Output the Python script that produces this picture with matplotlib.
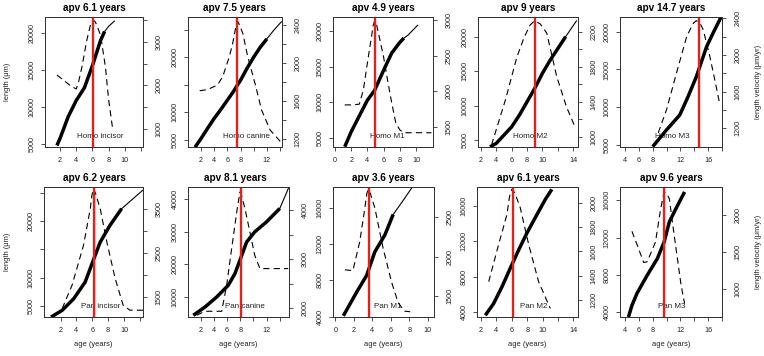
import matplotlib
matplotlib.use('Agg')
import matplotlib.pyplot as plt

plt.rcParams['font.family'] = ['Liberation Sans', 'DejaVu Sans']
plt.rcParams['lines.scale_dashes'] = False

# ---------------- data ----------------
apv_values = [6.1, 7.5, 4.9, 9, 14.7, 6.2, 8.1, 3.6, 6.1, 9.6]
tooth_labels = ["Homo incisor", "Homo canine", "Homo M1", "Homo M2", "Homo M3",
                "Pan incisor", "Pan canine", "Pan M1", "Pan M2", "Pan M3"]

# Homo incisor
hi_age = [1.6, 2.0, 3.0, 4.0, 5.0, 6.0, 7.0, 7.5]
hi_len = [4800, 5800, 8700, 10900, 12600, 15600, 19000, 20200]
hi_tail_age = [7.5, 8.0, 8.7]
hi_tail_len = [20200, 20900, 21600]
hi_vel_age = [1.6, 2.5, 3.3, 4.0, 4.3, 4.7, 5.3, 5.75, 5.95, 6.1, 6.3, 6.5, 7.0, 7.6, 8.0, 8.5]
hi_vel = [2240, 2110, 1990, 1920, 2100, 2430, 3040, 3390, 3470, 3490, 3470, 3400, 3150, 2430, 1670, 1000]

# Homo canine
hc_age = [1.1, 2, 3, 4, 5, 6, 7, 7.5, 8, 9, 10, 11, 12]
hc_len = [3700, 5250, 7100, 8900, 10500, 12200, 13900, 14900, 15800, 18000, 20000, 21800, 23300]
hc_tail_age = [12, 13, 14.2]
hc_tail_len = [23300, 24800, 26400]
hc_vel_age = [1.8, 3.0, 4.5, 5.3, 6.3, 6.8, 7.1, 7.35, 7.6, 7.85, 8.35, 9.1, 10.2, 11.2, 12.5, 14.1]
hc_vel = [1708, 1720, 1768, 1856, 2066, 2200, 2312, 2400, 2435, 2400, 2312, 2066, 1786, 1505, 1294, 1170]

# Homo M1
hm1_age = [1.2, 2, 3, 4, 4.9, 6, 7, 8, 8.5]
hm1_len = [3780, 5880, 8100, 10300, 11700, 14500, 16900, 18400, 19000]
hm1_tail_age = [8.5, 9, 10.2]
hm1_tail_len = [19000, 19400, 20800]
hm1_vel_age = [1.2, 2, 3, 3.5, 4, 4.5, 4.7, 4.9, 5.1, 5.3, 6, 6.5, 7, 7.5, 8, 8.5, 11.9]
hm1_vel = [1810, 1810, 1820, 2020, 2400, 2760, 2920, 2990, 2950, 2850, 2480, 2150, 1840, 1560, 1460, 1420, 1420]

# Homo M2
hm2_age = [3.2, 4, 5, 6, 7, 8, 9, 10, 11, 12, 13]
hm2_len = [4000, 4500, 5700, 6900, 8600, 10550, 12500, 14700, 16600, 18300, 20000]
hm2_tail_age = [13, 14.4]
hm2_tail_len = [20000, 22300]
hm2_vel_age = [3.4, 5.2, 6.7, 7.6, 8.4, 9.0, 9.7, 10.55, 11.85, 13.1, 14.2]
hm2_vel = [905, 1420, 1914, 2130, 2277, 2325, 2290, 2185, 1686, 1343, 1114]

# Homo M3
hm3_age = [8.0, 10, 11.9, 13.1, 14.3, 15.77, 16.7, 17.9]
hm3_len = [4780, 7000, 8970, 11400, 14050, 18000, 19800, 22000]
hm3_tail_age = [17.9]
hm3_tail_len = [22000]
hm3_vel_age = [8.8, 10, 11.7, 12.9, 13.85, 14.3, 14.8, 15.3, 16.25, 16.96, 17.6]
hm3_vel = [1150, 1404, 1876, 2200, 2345, 2374, 2350, 2273, 1982, 1728, 1492]

# Pan incisor
pi_age = [0.8, 2.2, 3.66, 5.1, 6.2, 7.0, 8.25, 9.7]
pi_len = [3060, 4240, 6300, 9230, 13350, 16300, 19300, 22200]
pi_tail_age = [9.7, 12.4]
pi_tail_len = [22200, 25500]
pi_vel_age = [2.2, 3.45, 4.9, 5.75, 5.95, 6.16, 6.4, 7.0, 7.84, 8.9, 9.9, 10.75, 12.4]
pi_vel = [1237, 1766, 2673, 3500, 3800, 3955, 3850, 3500, 2740, 1910, 1310, 1200, 1200]

# Pan canine
pc_age = [0.88, 2.66, 4.43, 6.19, 7.2, 7.96, 8.97, 10.2, 12.0, 14.0]
pc_len = [4370, 6920, 10000, 13600, 17200, 21300, 26900, 30000, 33100, 37200]
pc_tail_age = [14.0, 15.3]
pc_tail_len = [37200, 43350]
pc_vel_age = [1.4, 2.66, 5.19, 5.94, 6.7, 7.55, 7.96, 8.2, 8.72, 9.47, 10.2, 10.99, 15.28]
pc_vel = [1857, 1939, 1939, 2469, 3218, 4034, 4372, 4300, 4034, 3557, 3081, 2810, 2810]

# Pan M1
pm1_age = [0.87, 2.3, 3.39, 4.28, 5.36, 6.26]
pm1_len = [4080, 6680, 8540, 11150, 13000, 15270]
pm1_tail_age = [6.26, 7.3, 8.4]
pm1_tail_len = [15270, 16750, 18400]
pm1_vel_age = [1.04, 1.9, 2.64, 3.2, 3.4, 3.56, 3.8, 4.28, 5.18, 6.1, 6.8, 7.5, 8.1]
pm1_vel = [1833, 1823, 2188, 2620, 2800, 2857, 2800, 2620, 2104, 1673, 1415, 1308, 1300]

# Pan M2
pm2_age = [2.56, 3.64, 4.73, 5.8, 6.9, 7.97, 9.27, 10.35, 11.2]
pm2_len = [3620, 4960, 6860, 8960, 11050, 12960, 15050, 16760, 17900]
pm2_tail_age = [11.2]
pm2_tail_len = [17900]
pm2_vel_age = [3.0, 4.28, 5.37, 5.7, 6.0, 6.4, 7.1, 8.2, 9.48, 11.0]
pm2_vel = [1352, 1655, 1903, 2050, 2110, 2080, 1959, 1655, 1352, 1132]

# Pan M3
pm3_age = [4.5, 5.0, 5.73, 7.2, 8.67, 9.65, 10.4, 11.36, 12.6]
pm3_len = [3460, 4700, 6000, 7940, 9740, 11530, 13680, 15120, 16900]
pm3_tail_age = [12.6]
pm3_tail_len = [16900]
pm3_vel_age = [5.0, 5.9, 6.7, 7.2, 8.4, 9.15, 9.65, 10.0, 10.4, 11.1, 12.1, 12.6]
pm3_vel = [1782, 1560, 1356, 1366, 1636, 2090, 2315, 2300, 2225, 1726, 1046, 797]

growth = [(hi_age, hi_len, hi_tail_age, hi_tail_len, hi_vel_age, hi_vel),
          (hc_age, hc_len, hc_tail_age, hc_tail_len, hc_vel_age, hc_vel),
          (hm1_age, hm1_len, hm1_tail_age, hm1_tail_len, hm1_vel_age, hm1_vel),
          (hm2_age, hm2_len, hm2_tail_age, hm2_tail_len, hm2_vel_age, hm2_vel),
          (hm3_age, hm3_len, hm3_tail_age, hm3_tail_len, hm3_vel_age, hm3_vel),
          (pi_age, pi_len, pi_tail_age, pi_tail_len, pi_vel_age, pi_vel),
          (pc_age, pc_len, pc_tail_age, pc_tail_len, pc_vel_age, pc_vel),
          (pm1_age, pm1_len, pm1_tail_age, pm1_tail_len, pm1_vel_age, pm1_vel),
          (pm2_age, pm2_len, pm2_tail_age, pm2_tail_len, pm2_vel_age, pm2_vel),
          (pm3_age, pm3_len, pm3_tail_age, pm3_tail_len, pm3_vel_age, pm3_vel)]

# ---------------- layout / axes setup ----------------
W, H = 764, 356
fig = plt.figure(figsize=(W / 100, H / 100), dpi=100)
RED = '#e3211c'
SPINE = '#333333'

def lab(ticks, shown):
    return [(f"{t:g}" if t in shown else "") for t in ticks]

# box (l, r, t, b) in pixels, xlim, xticks, xshown, ylimL, yticksL, shownL,
# ylimR, yticksR, shownR, label age, title centre x (px)
panels = [
    ((45, 143, 17, 147), (0.125, 12.25), [2, 4, 6, 8, 10, 12], [2, 4, 6, 8, 10],
     (4595, 22160), [5000, 10000, 15000, 20000], [5000, 10000, 15000, 20000],
     (590, 3570), [1000, 1500, 2000, 2500, 3000, 3500], [1000, 2000, 3000], 7.0, 94),
    ((188, 282, 17, 147), (0.03, 14.3), [2, 4, 6, 8, 10, 12, 14], [2, 4, 6, 8, 12],
     (3730, 27270), [5000, 10000, 15000, 20000, 25000], [5000, 10000, 20000],
     (1116, 2484), [1200, 1400, 1600, 1800, 2000, 2200, 2400], [1200, 1600, 2000, 2400], 8.9, 234),
    ((333, 433, 17, 147), (-0.25, 12.1), [0, 2, 4, 6, 8, 10], [0, 2, 4, 6, 8, 10],
     (3740, 21960), [5000, 10000, 15000, 20000], [5000, 10000, 15000, 20000],
     (1220, 3042), [1500, 2000, 2500, 3000], [1500, 2000, 2500, 3000], 6.5, 383),
    ((478, 578, 17, 147), (1.65, 14.6), [2, 4, 6, 8, 10, 12, 14], [2, 4, 6, 8, 10, 14],
     (3985, 22860), [5000, 10000, 15000, 20000], [5000, 10000, 15000, 20000],
     (882, 2368), [1000, 1200, 1400, 1600, 1800, 2000, 2200], [1000, 1400, 1800, 2200], 8.4, 528),
    ((620, 722, 17, 147), (3.28, 17.93), [4, 6, 8, 10, 12, 14, 16, 18], [4, 6, 8, 12, 16],
     (4735, 21945), [5000, 10000, 15000, 20000], [5000, 10000, 15000, 20000],
     (996, 2414), [1200, 1400, 1600, 1800, 2000, 2200, 2400], [1200, 1600, 2000, 2400], 10.9, 671),
    ((44, 143, 187, 317), (-0.09, 12.4), [2, 4, 6, 8, 10, 12], [2, 4, 6, 8, 10],
     (3064, 26040), [5000, 10000, 15000, 20000, 25000], [5000, 10000, 20000],
     (1046, 3990), [1500, 2000, 2500, 3000, 3500], [1500, 2500, 3500], 7.0, 94),
    ((188, 289, 187, 317), (0.08, 15.4), [2, 4, 6, 8, 10, 12, 14], [2, 4, 6, 8, 12],
     (3850, 43800), [10000, 20000, 30000, 40000], [10000, 20000, 30000, 40000],
     (1822, 4475), [2000, 2500, 3000, 3500, 4000], [2000, 3000, 4000], 8.7, 235),
    ((333, 434, 187, 317), (-0.25, 10.68), [0, 2, 4, 6, 8, 10], [0, 2, 4, 6, 8, 10],
     (3950, 18300), [4000, 8000, 12000, 16000], [4000, 8000, 12000, 16000],
     (1233, 2887), [1500, 2000, 2500], [1500, 2000, 2500], 5.64, 383),
    ((477, 578, 187, 317), (1.48, 14.6), [2, 4, 6, 8, 10, 12, 14], [2, 4, 6, 8, 10, 14],
     (3430, 18170), [4000, 8000, 12000, 16000], [4000, 8000, 12000, 16000],
     (1062, 2129), [1200, 1400, 1600, 1800, 2000], [1200, 1400, 1600, 1800, 2000], 8.8, 528),
    ((620, 722, 187, 317), (3.28, 17.9), [4, 6, 8, 10, 12, 14, 16, 18], [4, 6, 8, 12, 16],
     (3460, 17430), [4000, 8000, 12000, 16000], [4000, 8000, 12000, 16000],
     (614, 2385), [1000, 1500, 2000], [1000, 1500, 2000], 10.7, 671),
]

for i, (cfg, data, apv, name) in enumerate(zip(panels, growth, apv_values, tooth_labels)):
    (l, r, t, b), xlim, xt, xs, ylL, ytL, ysL, ylR, ytR, ysR, labx, tx = cfg
    g_age, g_len, t_age, t_len, v_age, v_val = data
    ax = fig.add_axes([l / W, 1 - b / H, (r - l) / W, (b - t) / H])
    ax2 = ax.twinx()
    ax.set_xlim(*xlim)
    ax.set_ylim(*ylL)
    ax2.set_ylim(*ylR)

    ax.text(labx, 0.08, name, transform=ax.get_xaxis_transform(), ha='center',
            va='center', fontsize=5.8, color='#222222', zorder=1)
    ax.plot(g_age, g_len, color='black', lw=2.5, solid_capstyle='butt',
            solid_joinstyle='round', zorder=3)
    if len(t_age) > 1:
        ax.plot(t_age, t_len, color='black', lw=0.8, zorder=3)
    ax2.plot(v_age, v_val, color='black', lw=0.8, dashes=(4.5, 3))
    ax2.axvline(apv, color=RED, lw=1.7)

    ax.set_xticks(xt)
    ax.set_xticklabels(lab(xt, xs))
    ax.set_yticks(ytL)
    ax.set_yticklabels(lab(ytL, ysL), rotation=90, va='center')
    ax2.set_yticks(ytR)
    ax2.set_yticklabels(lab(ytR, ysR), rotation=90, va='center')

    for a in (ax, ax2):
        for s in a.spines.values():
            s.set_color(SPINE)
            s.set_linewidth(0.7)
        a.tick_params(direction='out', length=3, width=0.6, colors=SPINE,
                      labelcolor='#222222', labelsize=5.2)
    ax.tick_params(axis='x', pad=4.0)
    ax.tick_params(axis='y', pad=3.6)
    ax2.tick_params(axis='y', pad=6.0)

    fig.text(tx / W, 1 - (t - 9) / H, f"apv {apv:g} years", ha='center',
             va='center', fontsize=7.2, fontweight='bold')
    if i >= 5:
        fig.text((l + r) / 2 / W, 1 - 345 / H, "age (years)", ha='center',
                 va='center', fontsize=5.4, color='#222222')
    if i % 5 == 0:
        fig.text(8 / W, 1 - (t + b) / 2 / H, "length (μm)", rotation=90,
                 ha='center', va='center', fontsize=5.4, color='#222222')
    if i % 5 == 4:
        fig.text(759 / W, 1 - (t + b) / 2 / H, "length velocity (μm/yr)", rotation=90,
                 ha='center', va='center', fontsize=5.4, color='#222222')

fig.savefig('out.png', dpi=100)
